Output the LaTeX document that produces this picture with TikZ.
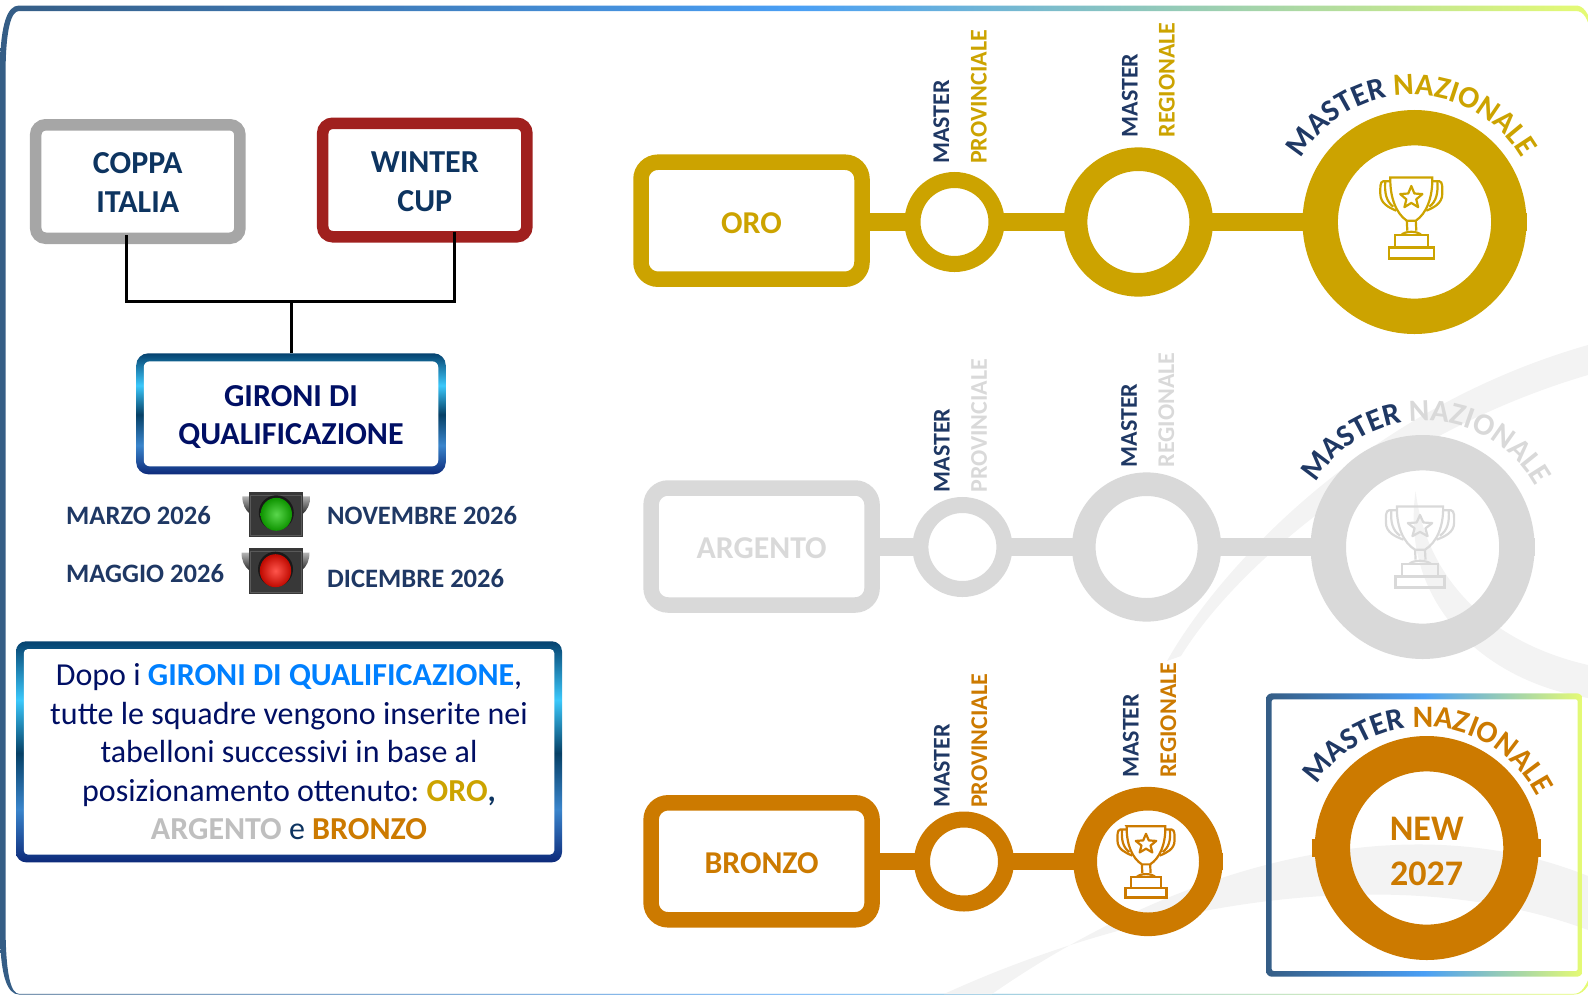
\documentclass[tikz,border=0pt]{standalone}
\usepackage{fontspec}
\setmainfont{Carlito}
\frenchspacing
\usetikzlibrary{calc,decorations.text}
\definecolor{fa}{HTML}{355D85}
\definecolor{fb}{HTML}{4A9FF5}
\definecolor{fc}{HTML}{E6FB73}
\definecolor{gold}{HTML}{CCA300}
\definecolor{silver}{HTML}{D9D9D9}
\definecolor{silvertxt}{HTML}{BFBFBF}
\definecolor{bronze}{HTML}{CC7A00}
\definecolor{navy}{HTML}{1F3864}
\definecolor{deep}{HTML}{000F64}
\definecolor{teal}{HTML}{0D3460}
\definecolor{bandc}{HTML}{F3F3F3}
\definecolor{coppac}{HTML}{A6A6A6}
\definecolor{winterc}{HTML}{A0201E}
\definecolor{sky}{HTML}{0080FF}
\definecolor{ga}{HTML}{05426F}
\definecolor{gb}{HTML}{3BC8FB}
\definecolor{gc}{HTML}{064066}
\definecolor{gd}{HTML}{3A85CC}
\definecolor{ge}{HTML}{0D2A7A}
\pgfdeclarehorizontalshading{framegrad}{100bp}{color(0bp)=(fa); color(25bp)=(fa); color(50bp)=(fb); color(75bp)=(fc); color(100bp)=(fc)}
\pgfdeclareverticalshading{boxgrad}{100bp}{color(0bp)=(ge); color(25bp)=(ge); color(37bp)=(gd); color(49.7bp)=(gc); color(61.7bp)=(gb); color(75bp)=(ga); color(100bp)=(ga)}
\newcommand\cf{\fontsize{31}{31}\selectfont\bfseries}
\newcommand\fs[2]{\fontsize{#1}{#2}\selectfont}
% lowers a centred block of text by #1
\newcommand\nudge[1]{\rule{0pt}{\dimexpr 0.66em+2\dimexpr #1\relax\relax}}
\tikzset{
  x=1pt,y=1pt,
  cupbox/.style={draw=#1,fill=white,line width=11.5pt,rounded corners=10pt,inner sep=0pt,align=center,text=teal,font=\fs{32}{39}\bfseries,minimum width=204.2pt,minimum height=113.5pt},
  tierbox/.style={draw=#1,line width=15.5pt,rounded corners=17pt,inner sep=0pt,minimum width=221pt,minimum height=117pt,text=#1,font=\fs{31.8}{32}\bfseries},
  gradout/.style={shade,shading=boxgrad,rounded corners=#1,inner sep=0pt},
  gradin/.style={fill=white,rounded corners=#1,inner sep=0pt,align=center},
  ringS/.style={circle,draw=#1,line width=16pt,minimum size=84pt,inner sep=0pt},
  ringM/.style={circle,draw=#1,line width=23.6pt,minimum size=125.6pt,inner sep=0pt},
  ringL/.style={circle,draw=#1,line width=35.4pt,minimum size=188.6pt,inner sep=0pt},
  bar/.style={draw=#1,line width=17.4pt,shorten <=-2pt,shorten >=-2pt},
  vlabel/.style={rotate=90,anchor=base west,inner sep=0pt,text=#1,font=\fs{24}{24}\bfseries},
  datelabel/.style={anchor=base west,inner sep=0pt,text=navy,font=\fs{26.6}{26}\bfseries},
  wire/.style={draw=black,line width=3pt,line cap=butt,line join=miter},
  pics/trophy/.style={code={
    \draw (-21,40.3) -- (21,40.3) .. controls (21.5,20) and (15,4) .. (4.5,-3) -- (-4.5,-3) .. controls (-15,4) and (-21.5,20) .. cycle;
    \draw (-4.5,-3) -- (-4,-13) (4.5,-3) -- (5,-13);
    \draw (-10,-17.3) .. controls (-6,-13) and (6,-13) .. (10,-17.3);
    \draw (-16.7,-17.3) rectangle (16.7,-29.7);
    \draw (-22.3,-29.7) rectangle (22.3,-40.7);
    \foreach \s in {1,-1}{
      \draw[xscale=\s] (21,36.5) -- (28,36.5) .. controls (31.5,36) and (31,30) .. (31,24) .. controls (31,14) and (22,10) .. (15,7);
      \draw[xscale=\s] (26,36.5) .. controls (27,25) and (25,16) .. (18,11);
    }
    \draw[line join=round,shift={(0,20)}] (90:11.7) -- (126:5.2) -- (162:11.7) -- (198:5.2) -- (234:11.7) -- (270:5.2) -- (306:11.7) -- (342:5.2) -- (18:11.7) -- (54:5.2) -- cycle;
  }},
  pics/tlight/.style={code={
    \shade[top color=black!30,bottom color=black!85] (-34,18) -- (-26,18) -- (-26,0) .. controls (-31,4) and (-34,10) .. cycle;
    \shade[top color=black!30,bottom color=black!85] (34,18) -- (26,18) -- (26,0) .. controls (31,4) and (34,10) .. cycle;
    \fill[black!78] (-27,-23) rectangle (27,22.8);
    \draw[black!65,line width=1pt] (-25.5,-21.5) rectangle (25.5,19);
    \fill[black!90] (0,1.5) circle[radius=17.5];
    \shade[inner color=#1!70!white,outer color=#1!75!black] (0,0) ellipse[x radius=15.7,y radius=16.5];
  }},
}
% ring, radius, colour, rotation of the arc, shift of its centre
\newcommand\masterarc[5]{%
  \path[decorate,decoration={text along path,text align=center,
    text={|\cf\color{navy}|MASTER ||{}|\cf\color{#3}|NAZIONALE}}]
    ($(#1)+(#5)+({150+#4}:#2)$) arc[start angle={150+#4},end angle={30+#4},radius=#2];}
\begin{document}
\begin{tikzpicture}
\path[use as bounding box] (0,0) rectangle (1588,-994);
\clip (0,0) rectangle (1588,-994);
% outer frame
\shade[shading=framegrad,even odd rule]
  (0,-63) .. controls (1,-25) and (7,-5.5) .. (19,-5.5) -- (1576,-5.5) .. controls (1584,-5.5) and (1588,-14) .. (1592,-24) -- (1592,-978) .. controls (1588,-986) and (1584,-994.5) .. (1574,-994.5) -- (19,-994.5) .. controls (7,-994.5) and (1,-975) .. (0,-938) -- cycle
  (5.7,-63) .. controls (6.5,-30) and (11,-11) .. (19,-11) -- (1576,-11) .. controls (1584,-11) and (1588,-20) .. (1590,-30) -- (1590,-976) .. controls (1586,-985) and (1582,-993.8) .. (1574,-993.8) -- (19,-993.8) .. controls (11,-993.8) and (6.5,-975) .. (5.7,-938) -- cycle;
% background swooshes
\fill[bandc] (992,-994) .. controls (1170,-870) and (1400,-800) .. (1588,-876) -- (1588,-930) .. controls (1400,-860) and (1150,-900) .. (944,-994) -- cycle;
\fill[bandc] (1167,-661) .. controls (1215,-575) and (1360,-410) .. (1588,-345) -- (1588,-375) .. controls (1400,-430) and (1240,-560) .. (1181,-656) -- cycle;
\fill[bandc] (1415.6,-491) .. controls (1425,-570) and (1480,-640) .. (1588,-665) -- (1588,-698) .. controls (1480,-680) and (1400,-600) .. (1415.6,-491) -- cycle;
% left column
\node[cupbox=coppac] (coppa) at (137.8,-181.5) {\nudge{1pt}COPPA\\ITALIA};
\node[cupbox=winterc] (winter) at (424.8,-180) {\nudge{2pt}WINTER\\CUP};
\node[gradout=12pt,minimum width=309.6pt,minimum height=121pt] (gironi) at (291,-413.8) {};
\node[gradin=6pt,minimum width=294.5pt,minimum height=105pt,text=deep,font=\fs{32}{38}\bfseries] (gironiT) at (gironi.center) {\nudge{3pt}GIRONI DI\\QUALIFICAZIONE};
\coordinate (cl) at ([xshift=-11.1pt,yshift=9pt]coppa.south);
\coordinate (cr) at ([xshift=29.8pt,yshift=11pt]winter.south);
\coordinate (jn) at (gironi.north |- 0,-301.7);
\draw[wire] (cl) |- (jn);
\draw[wire] (cr) |- (jn);
\draw[wire] (gironi.north) -- (jn);
% dates and lights
\node[datelabel] (d1) at (66,-524) {MARZO 2026};
\node[datelabel] (d2) at (66,-582) {MAGGIO 2026};
\node[datelabel] (d3) at (327,-524) {NOVEMBRE 2026};
\node[datelabel] (d4) at (327,-587) {DICEMBRE 2026};
\pic at (276.3,-514.3) {tlight=green!75!black!90!lime};
\pic at (275.5,-570.7) {tlight=red!90!orange};
% explanatory text
\node[gradout=10pt,minimum width=546pt,minimum height=221pt] (note) at (289,-751.8) {};
\node[gradin=4pt,minimum width=530.5pt,minimum height=205.4pt,text=deep,font=\fs{32}{38.6}] (noteT) at (note.center)
 {\nudge{0.5pt}Dopo i \textcolor{sky}{\bfseries GIRONI DI QUALIFICAZIONE},\\
  tutte le squadre vengono inserite nei\\
  tabelloni successivi in base al\\
  posizionamento ottenuto: \textcolor{gold}{\bfseries ORO}{\bfseries\textcolor{teal}{,}}\\
  \textcolor{silvertxt}{\bfseries ARGENTO} \textcolor{teal}{e} \textcolor{bronze}{\bfseries BRONZO}};
% ORO row
\node[tierbox=gold] (oroB) at (751.5,-220.7) {\nudge{2pt}ORO};
\node[ringS=gold] (oroP) at (954.5,-222) {};
\node[ringM=gold] (oroR) at (1138.4,-222) {};
\node[ringL=gold] (oroN) at (1414.5,-222) {};
\draw[bar=gold] (oroB.east |- oroP) -- (oroP.west);
\draw[bar=gold] (oroP.east) -- (oroR.west);
\draw[bar=gold] (oroR.east) -- (oroN.west);
\draw[bar=gold,shorten <=0pt,shorten >=0pt] ([xshift=-1pt]oroN.east) -- ([xshift=0.6pt]oroN.east);
\node[vlabel=navy] (oroP1) at (949,-164) {MASTER};
\node[vlabel=gold] (oroP2) at (986.5,-164) {PROVINCIALE};
\node[vlabel=navy] (oroR1) at (1137.5,-137.7) {MASTER};
\node[vlabel=gold] (oroR2) at (1174.5,-137.7) {REGIONALE};
\masterarc{oroN.center}{127}{gold}{0}{-3,0}
\pic[color=gold,line width=2.2pt] at (1411.3,-217.7) {trophy};
% ARGENTO row
\node[tierbox=silver] (argB) at (761.6,-546.5) {\nudge{2pt}ARGENTO};
\node[ringS=silver] (argP) at (962.4,-547) {};
\node[ringM=silver] (argR) at (1146.6,-547) {};
\node[ringL=silver] (argN) at (1422.6,-547) {};
\draw[bar=silver] (argB.east |- argP) -- (argP.west);
\draw[bar=silver] (argP.east) -- (argR.west);
\draw[bar=silver] (argR.east) -- (argN.west);
\draw[bar=silver,shorten <=0pt,shorten >=0pt] ([xshift=-1pt]argN.east) -- ([xshift=0.6pt]argN.east);
\node[vlabel=navy] (argP1) at (949.5,-492.7) {MASTER};
\node[vlabel=silver] (argP2) at (986.8,-492.7) {PROVINCIALE};
\node[vlabel=navy] (argR1) at (1136.8,-467.7) {MASTER};
\node[vlabel=silver] (argR2) at (1174,-467.7) {REGIONALE};
\masterarc{argN.center}{127}{silver}{-1}{2,-1}
\pic[color=silver,line width=2.2pt,xscale=1.1] at (1420,-546.7) {trophy};
% BRONZO row
\node[tierbox=bronze] (broB) at (761.6,-861.3) {\nudge{2pt}BRONZO};
\node[ringS=bronze] (broP) at (964,-861.5) {};
\node[ringM=bronze] (broR) at (1148,-861.5) {};
\draw[bar=bronze] (broB.east |- broP) -- (broP.west);
\draw[bar=bronze] (broP.east) -- (broR.west);
\draw[bar=bronze,shorten <=0pt,shorten >=0pt] ([xshift=-1pt]broR.east) -- ([xshift=0.6pt]broR.east);
\node[vlabel=navy] (broP1) at (949.5,-808) {MASTER};
\node[vlabel=bronze] (broP2) at (987,-808) {PROVINCIALE};
\node[vlabel=navy] (broR1) at (1138.5,-777.8) {MASTER};
\node[vlabel=bronze] (broR2) at (1176,-777.8) {REGIONALE};
\pic[color=bronze,line width=2.2pt,xscale=.92,yscale=.88] at (1146,-861.7) {trophy};
% NEW frame
\shade[shading=framegrad,even odd rule,rounded corners=6pt] (1266,-693.3) rectangle (1582.7,-976.7) [rounded corners=2pt] (1271.7,-699.3) rectangle (1577.7,-971);
\node[ringL=bronze,align=center,text=bronze,font=\fs{36}{45}\bfseries] (natN) at (1426.7,-848) {\nudge{3pt}NEW\\2027};
\draw[bar=bronze,shorten <=0pt,shorten >=0pt] ([xshift=-3pt]natN.west) -- ([xshift=3pt]natN.west);
\draw[bar=bronze,shorten <=0pt,shorten >=0pt] ([xshift=-3pt]natN.east) -- ([xshift=2pt]natN.east);
\masterarc{natN.center}{127}{bronze}{-3}{-3,-6}
\end{tikzpicture}
\end{document}
